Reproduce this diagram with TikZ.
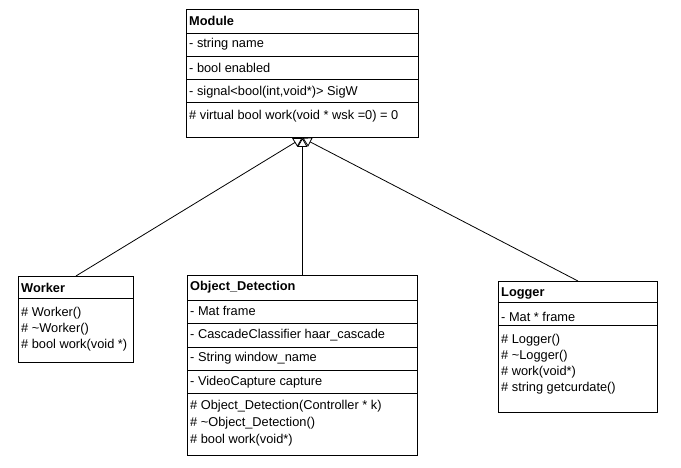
\documentclass[tikz,border=0pt]{standalone}
\usepackage{fontspec}
\setmainfont{Liberation Sans}
\usetikzlibrary{arrows.meta}
\begin{document}
\begin{tikzpicture}[x=1pt,y=-1pt,
  cls/.style={draw=black, line width=0.9pt, fill=white, inner sep=0pt, anchor=north west},
  txt/.style={anchor=west, inner sep=0pt, font=\fontsize{12.8}{15}\selectfont},
  hdr/.style={txt, font=\fontsize{12.8}{15}\selectfont\bfseries},
  div/.style={line width=0.9pt},
  gen/.style={line width=0.8pt, -{Triangle[open, length=9pt, width=10pt]}}]
\useasboundingbox[fill=white] (0,0) rectangle (681,468);
% Module
\node[cls, minimum width=232pt, minimum height=128pt] (module) at (186,9) {};
\draw[div] (186,33) -- (418,33);
\draw[div] (186,56) -- (418,56);
\draw[div] (186,79) -- (418,79);
\draw[div] (186,102) -- (418,102);
\node[hdr] (mh) at (189,21) {Module};
\node[txt] (m1) at (189,44) {- string name};
\node[txt] (m2) at (189,68) {- bool enabled};
\node[txt] (m3) at (189,92) {- signal<bool(int,void*)> SigW};
\node[txt] (m4) at (189,116) {\# virtual bool work(void * wsk =0) = 0};
% Worker
\node[cls, minimum width=115pt, minimum height=86pt] (worker) at (18,276) {};
\draw[div] (18,298) -- (133,298);
\node[hdr] (wh) at (21,288) {Worker};
\node[txt] (w1) at (21,313) {\# Worker()};
\node[txt] (w2) at (21,329) {\# \textasciitilde Worker()};
\node[txt] (w3) at (21,345) {\# bool work(void *)};
% Object_Detection
\node[cls, minimum width=230pt, minimum height=180pt] (od) at (187,275) {};
\draw[div] (187,300) -- (417,300);
\draw[div] (187,323) -- (417,323);
\draw[div] (187,347) -- (417,347);
\draw[div] (187,370) -- (417,370);
\draw[div] (187,393) -- (417,393);
\node[hdr] (oh) at (190,287) {Object\_Detection};
\node[txt] (o1) at (190,311) {- Mat frame};
\node[txt] (o2) at (190,335) {- CascadeClassifier haar\_cascade};
\node[txt] (o3) at (190,358) {- String window\_name};
\node[txt] (o4) at (190,382) {- VideoCapture capture};
\node[txt] (o5) at (190,406) {\# Object\_Detection(Controller * k)};
\node[txt] (o6) at (190,423) {\# \textasciitilde Object\_Detection()};
\node[txt] (o7) at (190,440) {\# bool work(void*)};
% Logger
\node[cls, minimum width=159pt, minimum height=131pt] (logger) at (498,281) {};
\draw[div] (498,302) -- (657,302);
\draw[div] (498,325) -- (657,325);
\node[hdr] (lh) at (501,293) {Logger};
\node[txt] (l1) at (501,317) {- Mat * frame};
\node[txt] (l2) at (501,340) {\# Logger()};
\node[txt] (l3) at (501,356) {\# \textasciitilde Logger()};
\node[txt] (l4) at (501,372) {\# work(void*)};
\node[txt] (l5) at (501,388) {\# string getcurdate()};
% generalisation arrows
\draw[gen] (worker.north) -- (module.south);
\draw[gen] (od.north) -- (module.south);
\draw[gen] (logger.north) -- (module.south);
\end{tikzpicture}
\end{document}
